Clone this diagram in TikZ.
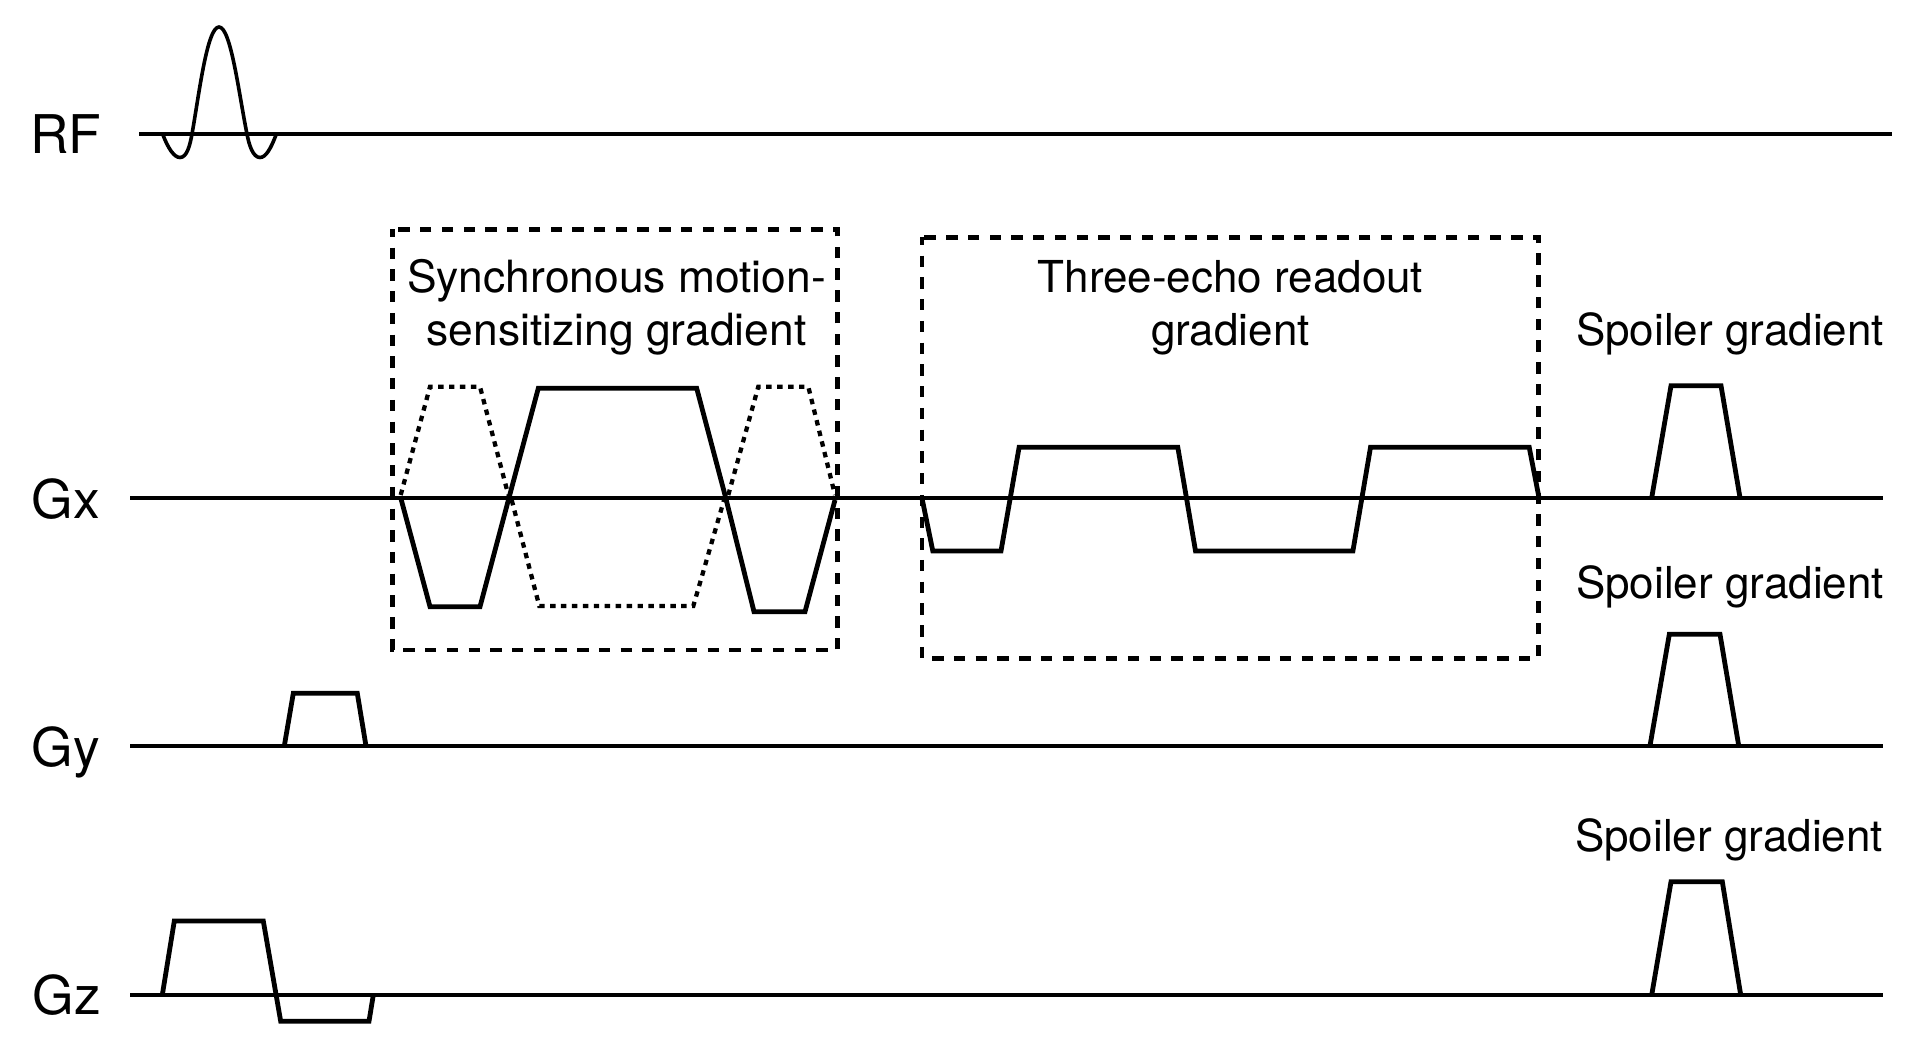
\documentclass[tikz,border=0pt]{standalone}
\usepackage{fontspec}
\setmainfont{TeX Gyre Heros}
\tikzset{
	eje/.style={
		line width=3.1pt
	},
	senal/.style={
		line width=2.7pt
	},
	pulso/.style={
		line width=3.6pt,
		line join=miter
	},
	pulsoAlterno/.style={
		line width=3.2pt,
		dash pattern=on 4.1pt off 4.1pt
	},
	marco/.style={
		line width=3.4pt,
		dash pattern=on 8.5pt off 7.8pt,
		dash phase=2.5pt
	},
	canal/.style={
		anchor=base west,
		inner sep=0pt,
		font=\fontsize{40}{48}\selectfont
	},
	rotulo/.style={
		anchor=base,
		inner sep=0pt,
		align=center,
		font=\fontsize{33}{40}\selectfont
	}
}
\begin{document}
\begin{tikzpicture}[x=0.75pt, y=-0.75pt]
	\useasboundingbox (0,0) rectangle (1926,1062);
	% channel lines
	\draw[eje] (139,133.7) -- (1892,133.7);
	\draw[eje] (130,497.7) -- (1883,497.7);
	\draw[eje] (130,746) -- (1883,746);
	\draw[eje] (130,995) -- (1883,995);
	\node[canal] (rf) at (30,154) {RF};
	\node[canal] (gx) at (31.5,518) {Gx};
	\node[canal] (gy) at (31.5,766) {Gy};
	\node[canal] (gz) at (32.5,1014) {Gz};
	% RF pulse
	\draw[senal] (163,135) .. controls (168,148) and (174,157.5) .. (180,157.5)
		.. controls (187,157.5) and (190,145) .. (192,134)
		.. controls (199,95) and (207,27) .. (219,27)
		.. controls (231,27) and (239,95) .. (247,134)
		.. controls (249,145) and (253,157.5) .. (260,157.5)
		.. controls (266,157.5) and (271,148) .. (276,135);
	% boxes
	\draw[marco] (392.7,229.3) rectangle (837.3,650);
	\draw[marco] (921.9,237.3) rectangle (1538.5,658.3);
	\node[rotulo, font=\fontsize{33.3}{40}\selectfont] (sincrono) at (616.5,345.5) {Synchronous motion-\\sensitizing gradient};
	\node[rotulo] (lectura) at (1230.4,345.5) {Three-echo readout\\gradient};
	% motion gradient
	\draw[pulso] (400.7,497.7) -- (430,606.7) -- (480,606.7) -- (509,497.7) -- (538.3,388.3)
		-- (696.7,388.3) -- (725.7,497.7) -- (754,611.7) -- (805,611.7) -- (835,500);
	\draw[pulsoAlterno] (400.7,495) -- (430,386.7) -- (480,386.7) -- (508.3,495);
	\draw[pulsoAlterno] (511.7,500) -- (539.3,606) -- (693.3,606) -- (724,500);
	\draw[pulsoAlterno] (728.3,495) -- (758.3,386.7) -- (808.3,386.7) -- (835,495);
	% readout
	\draw[pulso] (921.9,497.7) -- (932.8,551) -- (1001,551) -- (1019.1,447.3) -- (1177.8,447.3)
		-- (1195.5,551) -- (1352.9,551) -- (1370.5,447.3) -- (1529.2,447.3) -- (1539,497.7);
	% spoilers
	\draw[pulso] (1651.7,497.7) -- (1671,385.7) -- (1721,385.7) -- (1740,497.7);
	\draw[pulso] (1650,745.7) -- (1669.3,634.3) -- (1720,634.3) -- (1738.7,745.7);
	\draw[pulso] (1651.7,995) -- (1671,881.7) -- (1722.3,881.7) -- (1740.7,995);
	\node[rotulo] (spoilerX) at (1730,345) {Spoiler gradient};
	\node[rotulo] (spoilerY) at (1730,598) {Spoiler gradient};
	\node[rotulo] (spoilerZ) at (1729,851) {Spoiler gradient};
	% phase and slice
	\draw[pulso] (284.3,746) -- (293.3,693.3) -- (357.3,693.3) -- (366,746);
	\draw[pulso] (162.3,995) -- (174.3,921) -- (263.3,921) -- (280.7,1021.3) -- (369,1021.3) -- (373.3,995);
\end{tikzpicture}
\end{document}
